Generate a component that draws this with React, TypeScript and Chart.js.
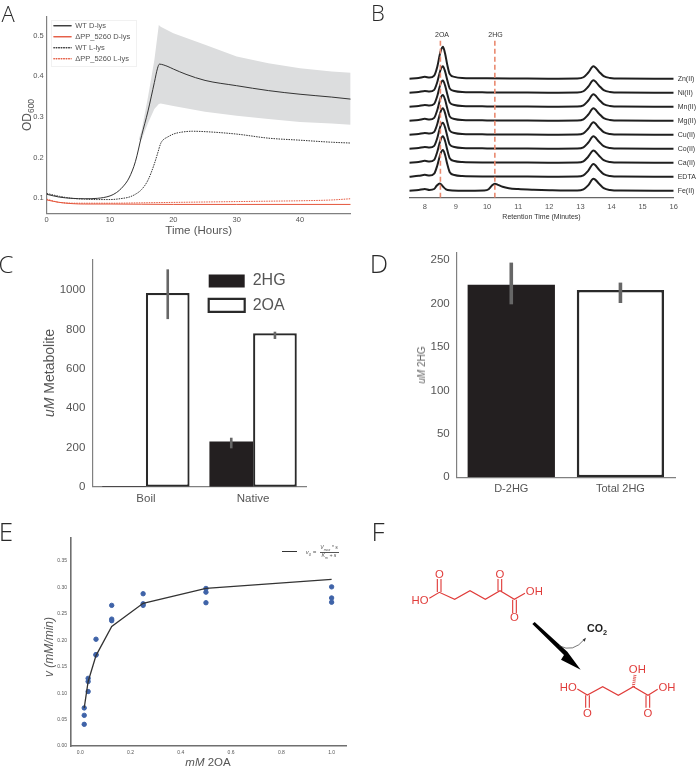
import React, { useEffect, useRef } from "react";
import { Chart, registerables } from "chart.js";

Chart.register(...registerables);

const W = 696;
const H = 768;
const SANS = "'Liberation Sans', Arial, sans-serif";
const TEXT = "#555555";
const AXIS = "#808080";

// Panel A
const growthLegend = ["WT D-lys", "ΔPP_5260 D-lys", "WT L-lys", "ΔPP_5260 L-lys"];
const wtDHours = [0, 2, 4, 6, 8, 10, 11, 12, 13, 14, 15, 16, 17, 17.5, 17.8, 19, 20, 22, 25, 30, 35, 40, 45, 48];
const wtDValues = [0.11, 0.103, 0.1, 0.099, 0.1, 0.106, 0.114, 0.128, 0.15, 0.19, 0.255, 0.315, 0.385, 0.42, 0.43, 0.425, 0.418, 0.405, 0.39, 0.377, 0.365, 0.356, 0.349, 0.344];
const wtLHours = [0, 2, 4, 6, 8, 10, 12, 13, 14, 15, 16, 17, 17.5, 18, 18.4, 19, 20, 21, 23, 25, 30, 35, 40, 45, 48];
const wtLValues = [0.112, 0.105, 0.1, 0.098, 0.097, 0.097, 0.1, 0.103, 0.11, 0.122, 0.145, 0.185, 0.21, 0.235, 0.244, 0.25, 0.258, 0.262, 0.265, 0.264, 0.258, 0.248, 0.243, 0.238, 0.236];
const mutDHours = [0, 2, 4, 6, 10, 20, 30, 40, 48];
const mutDValues = [0.096, 0.09, 0.087, 0.086, 0.086, 0.085, 0.085, 0.085, 0.085];
const mutLHours = [0, 2, 5, 10, 15, 20, 25, 30, 35, 40, 45, 48];
const mutLValues = [0.098, 0.09, 0.088, 0.088, 0.089, 0.09, 0.091, 0.092, 0.093, 0.094, 0.096, 0.099];
const bandHours = [14.5, 15, 16, 17, 17.7, 18, 20, 25, 30, 35, 40, 45, 48];
const bandUpper = [0.243, 0.268, 0.35, 0.44, 0.526, 0.522, 0.506, 0.478, 0.449, 0.432, 0.42, 0.412, 0.409];
const bandLower = [0.243, 0.245, 0.285, 0.32, 0.332, 0.333, 0.327, 0.313, 0.303, 0.295, 0.288, 0.284, 0.281];

// Panel B
const traceNames = ["Fe(II)", "EDTA", "Ca(II)", "Co(II)", "Cu(II)", "Mg(II)", "Mn(II)", "Ni(II)", "Zn(II)"];
const retention = [7.5, 7.8, 8.0, 8.15, 8.3, 8.4, 8.5, 8.58, 8.65, 8.72, 8.8, 8.95, 9.2, 10, 11, 12, 12.9, 13.1, 13.25, 13.42, 13.6, 13.75, 13.95, 14.3, 16];
const retentionFe = [7.5, 7.8, 8.0, 8.15, 8.3, 8.38, 8.48, 8.58, 8.68, 8.8, 9.2, 9.9, 10.05, 10.15, 10.25, 10.35, 10.5, 10.7, 11, 11.5, 12, 12.9, 13.1, 13.25, 13.42, 13.6, 13.75, 13.95, 14.3, 16];
const traceFe = [0, 0.05, 0.12, 0.05, 0.12, 0.35, 0.52, 0.3, 0.1, 0.03, 0, 0.02, 0.1, 0.35, 0.5, 0.42, 0.28, 0.18, 0.12, 0.07, 0.04, 0.01, 0.1, 0.38, 0.85, 0.5, 0.18, 0.05, 0.01, 0];
const traceEDTA = [0, 0.06, 0.13, 0.08, 0.22, 0.8, 1.62, 1.9, 1.55, 0.9, 0.32, 0.12, 0.05, 0.02, 0.01, 0, 0.01, 0.1, 0.42, 0.9, 0.5, 0.18, 0.05, 0.01, 0];
const traceCa = [0, 0.05, 0.13, 0.08, 0.2, 0.78, 1.6, 1.88, 1.55, 0.92, 0.32, 0.12, 0.05, 0.02, 0.01, 0, 0.01, 0.1, 0.42, 0.87, 0.5, 0.18, 0.05, 0.01, 0];
const traceCo = [0, 0.05, 0.12, 0.08, 0.2, 0.76, 1.6, 1.86, 1.52, 0.9, 0.3, 0.12, 0.05, 0.02, 0.01, 0, 0.01, 0.1, 0.42, 0.88, 0.5, 0.18, 0.05, 0.01, 0];
const traceCu = [0, 0.05, 0.12, 0.08, 0.2, 0.76, 1.6, 1.88, 1.54, 0.9, 0.3, 0.12, 0.05, 0.02, 0.01, 0, 0.01, 0.1, 0.42, 0.88, 0.5, 0.18, 0.05, 0.01, 0];
const traceMg = [0, 0.05, 0.13, 0.08, 0.2, 0.76, 1.58, 1.84, 1.5, 0.88, 0.3, 0.12, 0.05, 0.02, 0.01, 0, 0.01, 0.1, 0.42, 0.88, 0.5, 0.18, 0.05, 0.01, 0];
const traceMn = [0, 0.05, 0.12, 0.08, 0.2, 0.76, 1.6, 1.86, 1.52, 0.9, 0.3, 0.12, 0.05, 0.02, 0.01, 0, 0.01, 0.1, 0.42, 0.88, 0.5, 0.18, 0.05, 0.01, 0];
const traceNi = [0, 0.05, 0.12, 0.08, 0.2, 0.76, 1.6, 1.88, 1.52, 0.9, 0.3, 0.12, 0.05, 0.02, 0.01, 0, 0.01, 0.1, 0.42, 0.88, 0.5, 0.18, 0.05, 0.01, 0];
const traceZn = [0, 0.05, 0.13, 0.08, 0.22, 0.85, 1.9, 2.28, 1.8, 1.0, 0.33, 0.13, 0.05, 0.02, 0.01, 0, 0.01, 0.1, 0.42, 0.88, 0.5, 0.18, 0.05, 0.01, 0];
const markers2OA = 8.5;
const markers2HG = 10.25;

// Panel C
const metaboliteCats = ["Boil", "Native"];
const hg2Values = [3, 230];
const oa2Values = [985, 780];
const hg2Low = [NaN, 195];
const hg2High = [NaN, 249];
const oa2Low = [852, 751];
const oa2High = [1105, 788];

// Panel D
const d2hgCats = ["D-2HG", "Total 2HG"];
const d2hgValues = [221.5, 215.5];
const d2hgLow = [199, 200.5];
const d2hgHigh = [247, 224];

// Panel E
const substrateX = [0.015625, 0.015625, 0.015625, 0.03125, 0.03125, 0.03125, 0.0625, 0.0625, 0.0625, 0.125, 0.125, 0.125, 0.25, 0.25, 0.25, 0.5, 0.5, 0.5, 1, 1, 1];
const velocityY = [0.072, 0.058, 0.041, 0.128, 0.122, 0.103, 0.202, 0.172, 0.173, 0.266, 0.24, 0.237, 0.288, 0.269, 0.266, 0.298, 0.291, 0.271, 0.301, 0.28, 0.272];
const fitX = [0.015625, 0.03125, 0.0625, 0.125, 0.25, 0.5, 1];
const fitY = [0.072, 0.122, 0.171, 0.226, 0.27, 0.298, 0.315];

const xy = (xs: number[], ys: number[]) => xs.map((x, i) => ({ x, y: ys[i] }));

type Rect = { l: number; t: number; r: number; b: number };

const tickFont = (size: number) => ({ family: SANS, size });

// yW: width kept for the y axis labels; xH: height kept for the x axis labels and title.
const layoutFor = (p: Rect, yW: number, xH: number, yRight = false) => ({
  padding: {
    left: yRight ? p.l : p.l - yW,
    top: p.t,
    right: yRight ? W - p.r - yW : W - p.r,
    bottom: H - p.b - xH,
  },
});

const fixHeight = (h: number) => (s: any) => {
  s.height = h;
};
const fixWidth = (w: number) => (s: any) => {
  s.width = w;
};

const placeLegend = (x: number, y: number) => ({
  id: "placeLegend",
  afterLayout(chart: any) {
    const l = chart.legend;
    if (!l) return;
    const pad = l.options.labels.padding;
    l.left = x - pad;
    l.right = W;
    l.top = y - pad;
    l.bottom = H;
  },
});

const errorBars = (lows: number[][], highs: number[][], width: number) => ({
  id: "errorBars",
  afterDatasetsDraw(chart: any) {
    const { ctx, scales } = chart;
    ctx.save();
    ctx.strokeStyle = "#666666";
    ctx.lineWidth = width;
    lows.forEach((low, d) => {
      const meta = chart.getDatasetMeta(d);
      low.forEach((v, i) => {
        if (Number.isNaN(v)) return;
        const x = meta.data[i].x;
        ctx.beginPath();
        ctx.moveTo(x, scales.y.getPixelForValue(v));
        ctx.lineTo(x, scales.y.getPixelForValue(highs[d][i]));
        ctx.stroke();
      });
    });
    ctx.restore();
  },
});

const base = {
  responsive: false,
  animation: false,
  devicePixelRatio: 1,
  events: [] as string[],
};

function configA() {
  const p = { l: 46.7, t: 16.7, r: 350.7, b: 213.3 };
  const RED = "#e4563c";
  const BLK = "#333333";
  return {
    type: "line",
    data: {
      datasets: [
        { label: "band", data: xy(bandHours, bandLower), borderWidth: 0, pointRadius: 0, borderColor: "transparent", fill: false, order: 10 },
        { label: "band", data: xy(bandHours, bandUpper), borderWidth: 0, pointRadius: 0, borderColor: "transparent", backgroundColor: "#dcddde", fill: "-1", order: 9 },
        { label: growthLegend[0], data: xy(wtDHours, wtDValues), borderColor: BLK, backgroundColor: BLK, borderWidth: 1, pointRadius: 0, cubicInterpolationMode: "monotone", order: 1 },
        { label: growthLegend[1], data: xy(mutDHours, mutDValues), borderColor: RED, backgroundColor: RED, borderWidth: 1, pointRadius: 0, cubicInterpolationMode: "monotone", order: 2 },
        { label: growthLegend[2], data: xy(wtLHours, wtLValues), borderColor: BLK, backgroundColor: BLK, borderWidth: 1, borderDash: [1.5, 1], pointRadius: 0, cubicInterpolationMode: "monotone", order: 3 },
        { label: growthLegend[3], data: xy(mutLHours, mutLValues), borderColor: RED, backgroundColor: RED, borderWidth: 1, borderDash: [1.5, 1], pointRadius: 0, cubicInterpolationMode: "monotone", order: 4 },
      ],
    },
    options: {
      ...base,
      layout: layoutFor(p, 40, 24),
      plugins: {
        legend: {
          position: "chartArea",
          align: "start",
          labels: {
            boxWidth: 18,
            boxHeight: 0,
            padding: 3.5,
            color: TEXT,
            font: tickFont(7.5),
            filter: (item: any) => item.text !== "band",
          },
        },
        tooltip: { enabled: false },
      },
      scales: {
        x: {
          type: "linear",
          min: 0,
          max: 48,
          afterFit: fixHeight(24),
          grid: { display: false, drawTicks: false },
          border: { color: AXIS, width: 1.2 },
          ticks: { stepSize: 10, includeBounds: false, maxRotation: 0, autoSkip: false, padding: 2, color: TEXT, font: tickFont(7.5) },
          title: { display: true, text: "Time (Hours)", color: TEXT, font: tickFont(11.5), padding: 0 },
        },
        y: {
          min: 0.0632,
          max: 0.5467,
          afterFit: fixWidth(40),
          grid: { display: false, drawTicks: false },
          border: { color: AXIS, width: 1.2 },
          ticks: { stepSize: 0.1, includeBounds: false, padding: 3, color: TEXT, font: tickFont(7.5), callback: (v: number) => v.toFixed(1) },
        },
      },
    },
    plugins: [placeLegend(53.5, 22)],
  };
}

function configB() {
  const p = { l: 409.3, t: 40, r: 673.7, b: 197.7 };
  const series = [traceFe, traceEDTA, traceCa, traceCo, traceCu, traceMg, traceMn, traceNi, traceZn];
  const ds: any[] = series.map((vals, k) => ({
    label: traceNames[k],
    data: (k === 0 ? retentionFe : retention).map((x, i) => ({ x, y: vals[i] + k })),
    borderColor: "#1f1f1f",
    borderWidth: 2,
    pointRadius: 0,
    cubicInterpolationMode: "monotone",
    order: 2,
  }));
  [markers2OA, markers2HG].forEach((m, i) => {
    ds.push({
      label: i === 0 ? "2OA" : "2HG",
      data: [{ x: m, y: -0.5 }, { x: m, y: 10.76 }],
      borderColor: "#ea8a70",
      borderWidth: 1.6,
      borderDash: [5, 3],
      pointRadius: 0,
      order: 1,
    });
  });
  return {
    type: "line",
    data: { datasets: ds },
    options: {
      ...base,
      layout: layoutFor(p, 22.3, 24, true),
      plugins: { legend: { display: false }, tooltip: { enabled: false } },
      scales: {
        x: {
          type: "linear",
          min: 7.5,
          max: 16,
          afterFit: fixHeight(24),
          grid: { display: false, drawTicks: false },
          border: { color: "#666666", width: 1.2 },
          ticks: { stepSize: 1, includeBounds: false, maxRotation: 0, autoSkip: false, padding: 5, color: TEXT, font: tickFont(7.5) },
          title: { display: true, text: "Retention Time (Minutes)", color: "#333333", font: tickFont(7), padding: 0 },
        },
        y: {
          position: "right",
          min: -0.5,
          max: 10.76,
          afterFit: fixWidth(22.3),
          grid: { display: false, drawTicks: false },
          border: { display: false },
          ticks: {
            stepSize: 1,
            includeBounds: false,
            padding: 4,
            color: "#333333",
            font: tickFont(7),
            autoSkip: false,
            callback: (v: number) => traceNames[v] ?? "",
          },
        },
      },
    },
  };
}

function configC() {
  const p = { l: 92.3, t: 259.3, r: 306.7, b: 486.7 };
  const INK = "#231f20";
  return {
    type: "bar",
    data: {
      labels: metaboliteCats,
      datasets: [
        { label: "2HG", data: hg2Values, backgroundColor: INK, borderColor: INK, borderWidth: 0, categoryPercentage: 0.815, barPercentage: 1 },
        { label: "2OA", data: oa2Values, backgroundColor: "#ffffff", borderColor: "#2a2a2a", borderWidth: 2.2, borderSkipped: false, categoryPercentage: 0.815, barPercentage: 1 },
      ],
    },
    options: {
      ...base,
      layout: layoutFor(p, 60, 20),
      plugins: {
        legend: {
          position: "chartArea",
          align: "start",
          labels: { boxWidth: 36, boxHeight: 13, padding: 8.3, color: TEXT, font: tickFont(16) },
        },
        tooltip: { enabled: false },
      },
      scales: {
        x: {
          afterFit: fixHeight(20),
          grid: { display: false, drawTicks: false },
          border: { color: AXIS, width: 1.2 },
          ticks: { maxRotation: 0, autoSkip: false, padding: 5, color: TEXT, font: tickFont(11.5) },
        },
        y: {
          min: 0,
          max: 1156,
          afterFit: fixWidth(60),
          grid: { display: false, drawTicks: false },
          border: { color: AXIS, width: 1.2 },
          ticks: { stepSize: 200, includeBounds: false, padding: 7, color: TEXT, font: tickFont(11.5), callback: (v: number) => String(v) },
        },
      },
    },
    plugins: [placeLegend(208.7, 273), errorBars([hg2Low, oa2Low], [hg2High, oa2High], 2.6)],
  };
}

function configD() {
  const p = { l: 456.7, t: 252.7, r: 675, b: 477.3 };
  return {
    type: "bar",
    data: {
      labels: d2hgCats,
      datasets: [
        {
          label: "uM 2HG",
          data: d2hgValues,
          backgroundColor: ["#231f20", "#ffffff"],
          borderColor: ["#231f20", "#2a2a2a"],
          borderWidth: [0, 2.6],
          borderSkipped: false,
          categoryPercentage: 0.8,
          barPercentage: 1,
        },
      ],
    },
    options: {
      ...base,
      layout: layoutFor(p, 40, 20),
      plugins: { legend: { display: false }, tooltip: { enabled: false } },
      scales: {
        x: {
          afterFit: fixHeight(20),
          grid: { display: false, drawTicks: false },
          border: { color: AXIS, width: 1.2 },
          ticks: { maxRotation: 0, autoSkip: false, padding: 5, color: TEXT, font: tickFont(11) },
        },
        y: {
          min: 0,
          max: 258.4,
          afterFit: fixWidth(40),
          grid: { display: false, drawTicks: false },
          border: { color: AXIS, width: 1.2 },
          ticks: { stepSize: 50, includeBounds: false, padding: 7, color: TEXT, font: tickFont(11.5) },
        },
      },
    },
    plugins: [errorBars([d2hgLow], [d2hgHigh], 3.6)],
  };
}

function configE() {
  const p = { l: 71, t: 537.7, r: 346.7, b: 746 };
  return {
    type: "scatter",
    data: {
      datasets: [
        { label: "observed", data: xy(substrateX, velocityY), backgroundColor: "#3f63a8", borderColor: "#3f63a8", pointRadius: 2.2, order: 2 },
        { label: "fit", data: xy(fitX, fitY), showLine: true, borderColor: "#333333", borderWidth: 1.3, pointRadius: 0, order: 1 },
      ],
    },
    options: {
      ...base,
      layout: layoutFor(p, 30, 14),
      plugins: { legend: { display: false }, tooltip: { enabled: false } },
      scales: {
        x: {
          type: "linear",
          min: -0.037,
          max: 1.06,
          afterFit: fixHeight(14),
          grid: { display: false, drawTicks: false },
          border: { color: "#6f6f6f", width: 1.6 },
          ticks: { stepSize: 0.2, includeBounds: false, maxRotation: 0, autoSkip: false, padding: 4, color: TEXT, font: tickFont(5), callback: (v: number) => Math.abs(v).toFixed(1) },
        },
        y: {
          min: 0,
          max: 0.394,
          afterFit: fixWidth(30),
          grid: { display: false, drawTicks: false },
          border: { color: "#6f6f6f", width: 1.6 },
          ticks: { stepSize: 0.05, includeBounds: false, padding: 4, color: TEXT, font: tickFont(5), callback: (v: number) => v.toFixed(2) },
        },
      },
    },
  };
}

function ChartCanvas({ make }: { make: () => any }) {
  const ref = useRef<HTMLCanvasElement | null>(null);
  useEffect(() => {
    const chart = new Chart(ref.current as HTMLCanvasElement, make());
    return () => chart.destroy();
  }, [make]);
  return <canvas ref={ref} width={W} height={H} style={{ position: "absolute", left: 0, top: 0, width: W, height: H }} />;
}

function Txt(props: { x: number; y: number; size: number; color?: string; rot?: boolean; family?: string; weight?: number; children: React.ReactNode }) {
  const { x, y, size, color = TEXT, rot, family = SANS, weight = 400, children } = props;
  return (
    <div
      style={{
        position: "absolute",
        left: x,
        top: y,
        transform: `translate(-50%, -50%)${rot ? " rotate(-90deg)" : ""}`,
        fontFamily: family,
        fontSize: size,
        fontWeight: weight,
        color,
        whiteSpace: "nowrap",
        lineHeight: 1,
      }}
    >
      {children}
    </div>
  );
}

const PANEL_FONT = "'Open Sans', sans-serif";

function PanelF() {
  const red = "#e03c3a";
  const s = { fill: "none", stroke: red, strokeWidth: 3.4 };
  const t = { fill: red, fontFamily: SANS, fontSize: 34, textAnchor: "middle" as const };
  return (
    <svg viewBox="0 0 1008 759" width={336} height={253} style={{ position: "absolute", left: 360, top: 515 }}>
      <polyline {...s} points="208,250 238,232 284,253 330,227 376,253 420,227 463,253 495,235" />
      <polyline {...s} points="232,231 232,192" />
      <polyline {...s} points="243,231 243,192" />
      <polyline {...s} points="414,228 414,192" />
      <polyline {...s} points="425,228 425,192" />
      <polyline {...s} points="458,254 458,294" />
      <polyline {...s} points="469,254 469,294" />
      <text {...t} x={180} y={267}>HO</text>
      <text {...t} x={238} y={188}>O</text>
      <text {...t} x={420} y={188}>O</text>
      <text {...t} x={463} y={319}>O</text>
      <text {...t} x={523} y={240}>OH</text>
      <polyline {...s} points="652,522 682,540 728,515 775,541 820,515 864,541 893,523" />
      <polyline {...s} points="677,541 677,578" />
      <polyline {...s} points="688,541 688,578" />
      <polyline {...s} points="858,541 858,578" />
      <polyline {...s} points="869,541 869,578" />
      <polyline fill="none" stroke={red} strokeWidth={9} strokeDasharray="2.5 3" points="820,515 825,480" />
      <text {...t} x={625} y={529}>HO</text>
      <text {...t} x={682} y={606}>O</text>
      <text {...t} x={864} y={606}>O</text>
      <text {...t} x={921} y={528}>OH</text>
      <text {...t} x={832} y={475}>OH</text>
      <polygon points="517,327 524,321 622,410 662,464 603,434 612,420" fill="#000000" />
      <path d="M597,392 Q640,415 674,372" fill="none" stroke="#333333" strokeWidth={2} />
      <polygon points="678,368 668,374 674,380" fill="#333333" />
      <text x={681} y={352} fontFamily={SANS} fontSize={32} fontWeight={700} fill="#1c1c1c">
        CO<tspan fontSize={22} dy={8}>2</tspan>
      </text>
    </svg>
  );
}

export default function App() {
  return (
    <div style={{ position: "absolute", left: 0, top: 0, width: W, height: H, overflow: "hidden", background: "#ffffff" }}>
      <ChartCanvas make={configA} />
      <ChartCanvas make={configB} />
      <ChartCanvas make={configC} />
      <ChartCanvas make={configD} />
      <ChartCanvas make={configE} />
      <PanelF />

      <div style={{ position: "absolute", left: 51, top: 20, width: 86, height: 47, border: "1px solid #f1f1f1", boxSizing: "border-box" }} />

      <Txt x={8} y={12.5} size={22} family={PANEL_FONT} weight={300} color="#2a2a2a">A</Txt>
      <Txt x={378} y={12} size={22} family={PANEL_FONT} weight={300} color="#2a2a2a">B</Txt>
      <Txt x={6} y={263.5} size={24} family={PANEL_FONT} weight={300} color="#2a2a2a">C</Txt>
      <Txt x={379} y={263} size={26} family={PANEL_FONT} weight={300} color="#2a2a2a">D</Txt>
      <Txt x={6} y={531} size={26} family={PANEL_FONT} weight={300} color="#2a2a2a">E</Txt>
      <Txt x={378} y={531} size={26} family={PANEL_FONT} weight={300} color="#2a2a2a">F</Txt>

      <Txt x={27} y={115} size={12} rot>
        OD<sub style={{ fontSize: 8.5, lineHeight: 0 }}>600</sub>
      </Txt>
      <Txt x={442} y={33.5} size={7} color="#333333">2OA</Txt>
      <Txt x={495.5} y={33.5} size={7} color="#333333">2HG</Txt>
      <Txt x={48.5} y={373} size={14} rot>
        <i>uM</i> Metabolite
      </Txt>
      <Txt x={421.5} y={365} size={10} rot color="#666666">
        <i>uM</i> 2HG
      </Txt>
      <Txt x={49} y={647} size={12} rot>
        <i>v (mM/min)</i>
      </Txt>
      <Txt x={208} y={763} size={11.5}>
        <i>mM</i> 2OA
      </Txt>

      <div style={{ position: "absolute", left: 281.7, top: 551, width: 15, height: 1.3, background: "#333333" }} />
      <Txt x={311} y={552} size={6}>
        <i>
          v<sub style={{ fontSize: 4, lineHeight: 0 }}>0</sub> =
        </i>
      </Txt>
      <Txt x={329} y={548} size={5.2}>
        <i>
          V<sub style={{ fontSize: 3.5, lineHeight: 0 }}>max</sub> * s
        </i>
      </Txt>
      <div style={{ position: "absolute", left: 319.5, top: 551.5, width: 19, height: 0.6, background: "#555555" }} />
      <Txt x={329} y={556} size={5.2}>
        <i>
          K<sub style={{ fontSize: 3.5, lineHeight: 0 }}>m</sub> + s
        </i>
      </Txt>
    </div>
  );
}
